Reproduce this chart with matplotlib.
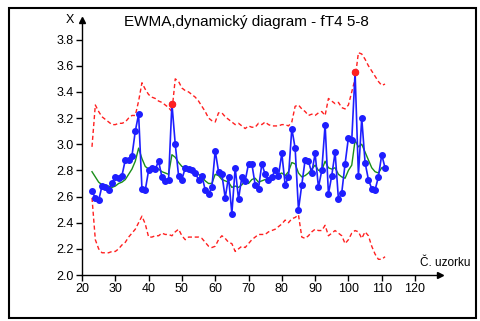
import numpy as np
import matplotlib
matplotlib.use("Agg")
import matplotlib.pyplot as plt
from matplotlib.patches import Rectangle

plt.rcParams['font.family'] = ['Liberation Sans', 'DejaVu Sans']

sample_start = 23
values = [2.64, 2.59, 2.57, 2.68, 2.67, 2.65, 2.70, 2.75, 2.74, 2.76,
          2.88, 2.88, 2.91, 3.10, 3.23, 2.66, 2.65, 2.80, 2.82, 2.81,
          2.87, 2.75, 2.72, 2.73, 3.31, 3.00, 2.76, 2.73, 2.82, 2.81,
          2.80, 2.78, 2.73, 2.76, 2.65, 2.62, 2.67, 2.95, 2.79, 2.77,
          2.59, 2.75, 2.47, 2.82, 2.58, 2.75, 2.72, 2.85, 2.85, 2.69,
          2.66, 2.85, 2.77, 2.73, 2.75, 2.80, 2.76, 2.93, 2.69, 2.75,
          3.12, 2.97, 2.50, 2.69, 2.88, 2.87, 2.78, 2.93, 2.67, 2.80,
          3.15, 2.62, 2.76, 2.94, 2.58, 2.63, 2.85, 3.05, 3.03, 3.55,
          2.76, 3.20, 2.86, 2.73, 2.66, 2.65, 2.75, 2.92, 2.82]
ewma = [2.79, 2.75, 2.71, 2.69, 2.68, 2.68, 2.67, 2.68, 2.70, 2.71,
        2.73, 2.77, 2.81, 2.87, 2.97, 2.89, 2.83, 2.81, 2.81, 2.81,
        2.81, 2.79, 2.78, 2.77, 2.92, 2.90, 2.86, 2.83, 2.82, 2.82,
        2.81, 2.79, 2.77, 2.75, 2.72, 2.70, 2.70, 2.77, 2.76, 2.73,
        2.72, 2.71, 2.67, 2.68, 2.67, 2.69, 2.72, 2.70, 2.73, 2.74,
        2.71, 2.72, 2.73, 2.73, 2.74, 2.75, 2.77, 2.78, 2.76, 2.79,
        2.86, 2.85, 2.78, 2.75, 2.76, 2.78, 2.81, 2.84, 2.80, 2.80,
        2.87, 2.82, 2.81, 2.82, 2.77, 2.75, 2.74, 2.80, 2.84, 3.03,
        2.98, 3.00, 2.94, 2.88, 2.82, 2.79, 2.78, 2.82, 2.82]
ucl = [2.98, 3.30, 3.25, 3.21, 3.19, 3.17, 3.15, 3.15, 3.16, 3.16,
       3.17, 3.20, 3.22, 3.22, 3.33, 3.47, 3.42, 3.38, 3.36, 3.35,
       3.33, 3.32, 3.30, 3.28, 3.25, 3.50, 3.48, 3.43, 3.41, 3.40,
       3.38, 3.36, 3.33, 3.29, 3.25, 3.20, 3.18, 3.17, 3.24, 3.24,
       3.21, 3.19, 3.17, 3.15, 3.16, 3.14, 3.12, 3.14, 3.13, 3.13,
       3.16, 3.15, 3.17, 3.15, 3.14, 3.14, 3.14, 3.15, 3.15, 3.14,
       3.17, 3.29, 3.30, 3.27, 3.25, 3.22, 3.23, 3.22, 3.24, 3.25,
       3.22, 3.35, 3.33, 3.31, 3.32, 3.28, 3.27, 3.30, 3.40, 3.50,
       3.70, 3.69, 3.65, 3.60, 3.56, 3.52, 3.48, 3.45, 3.46]
lcl = [2.59, 2.27, 2.20, 2.17, 2.17, 2.17, 2.18, 2.18, 2.20, 2.23,
       2.25, 2.29, 2.32, 2.35, 2.40, 2.45, 2.39, 2.29, 2.29, 2.30,
       2.30, 2.32, 2.31, 2.31, 2.30, 2.33, 2.35, 2.30, 2.27, 2.29,
       2.29, 2.29, 2.29, 2.28, 2.25, 2.22, 2.21, 2.22, 2.27, 2.30,
       2.28, 2.25, 2.24, 2.18, 2.20, 2.22, 2.21, 2.24, 2.27, 2.29,
       2.31, 2.31, 2.31, 2.33, 2.34, 2.35, 2.37, 2.39, 2.42, 2.40,
       2.43, 2.44, 2.46, 2.29, 2.28, 2.30, 2.33, 2.35, 2.34, 2.34,
       2.38, 2.30, 2.32, 2.34, 2.32, 2.30, 2.24, 2.27, 2.32, 2.34,
       2.33, 2.28, 2.33, 2.30, 2.22, 2.16, 2.12, 2.12, 2.14]
out_samples = [47, 102]
x_ticks = [20, 30, 40, 50, 60, 70, 80, 90, 100, 110, 120]
y_ticks = [2.0, 2.2, 2.4, 2.6, 2.8, 3.0, 3.2, 3.4, 3.6, 3.8]

x = np.arange(sample_start, sample_start + len(values))
vals = np.array(values)

fig = plt.figure(figsize=(4.8, 3.21), dpi=100)
fig.patch.set_facecolor('white')
fig.add_artist(Rectangle((9/480, 3/321), 467/480, 310/321, transform=fig.transFigure,
                         fill=False, edgecolor='black', linewidth=1.5))

ax = fig.add_axes([82/480, 46/321, 358/480, 255/321])
ax.set_xlim(20, 127.5)
ax.set_ylim(2.0, 3.95)

red = '#ff2020'
ax.plot(x, ucl, color=red, lw=1, ls=(0, (3, 2)))
ax.plot(x, lcl, color=red, lw=1, ls=(0, (3, 2)))
ax.plot(x, ewma, color='#1a8f1a', lw=1)
ax.plot(x, vals, color='#1e1eff', lw=1.2, marker='o', ms=4, mfc='#1e1eff', mec='#1e1eff')
idx = [list(x).index(s) for s in out_samples]
ax.plot(x[idx], vals[idx], ls='none', marker='o', ms=4.4, color=red)

for s in ['top', 'right']:
    ax.spines[s].set_visible(False)
ax.spines['left'].set_linewidth(1)
ax.spines['bottom'].set_linewidth(1)
ax.plot(1, 0, '>k', ms=4, transform=ax.transAxes, clip_on=False)
ax.plot(0, 1, '^k', ms=4, transform=ax.transAxes, clip_on=False)

ax.set_xticks(x_ticks)
ax.set_yticks(y_ticks)
ax.set_xticklabels([str(t) for t in x_ticks])
ax.set_yticklabels([f'{t:.1f}' for t in y_ticks])
ax.tick_params(axis='both', direction='out', length=4, width=1, labelsize=9, pad=2)

fig.text(246/480, 1 - 22/321, 'EWMA,dynamický diagram - fT4 5-8', ha='center', va='center', fontsize=11)
fig.text(70/480, 1 - 20/321, 'X', ha='center', va='center', fontsize=9)
fig.text(445/480, 1 - 263/321, 'Č. uzorku', ha='center', va='center', fontsize=8.5)

fig.savefig('out.png', dpi=100, facecolor='white')
